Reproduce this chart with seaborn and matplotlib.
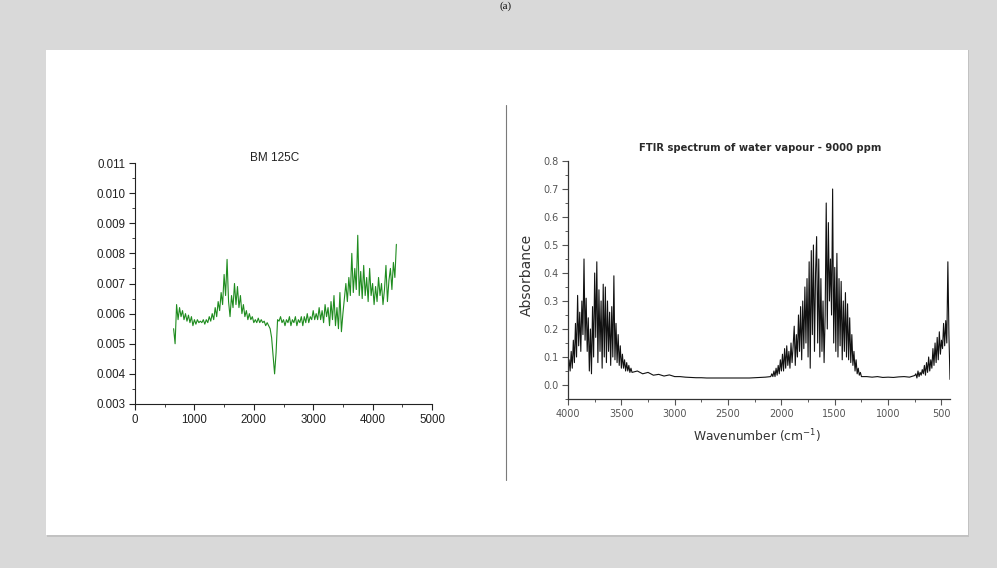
import numpy as np
import pandas as pd
import matplotlib
matplotlib.use("Agg")
import matplotlib.pyplot as plt
from matplotlib.patches import Rectangle
from matplotlib.ticker import MultipleLocator, FormatStrFormatter
import seaborn as sns

# ---------------- data: left panel (BM 125C) ----------------
bm_wavenumber = np.arange(650, 4401, 25)
bm_signal = [
    0.0055, 0.0050, 0.0063, 0.0058, 0.0062, 0.0059, 0.0061, 0.0058, 0.0060, 0.00575,
    0.00595, 0.0057, 0.0059, 0.0056, 0.0058, 0.00565, 0.0058, 0.0057, 0.00575, 0.0057,
    0.0058, 0.00565, 0.0058, 0.0057, 0.0059, 0.00575, 0.0060, 0.0058, 0.0062, 0.0059,
    0.0064, 0.0061, 0.0067, 0.0063, 0.0073, 0.0066, 0.0078, 0.0064, 0.0059, 0.0066,
    0.0062, 0.0070, 0.0063, 0.0069, 0.0062, 0.0066, 0.0060, 0.0063, 0.0059, 0.0061,
    0.0058, 0.0060, 0.0058, 0.0059, 0.0057, 0.0058, 0.0057, 0.00585, 0.0057, 0.0058,
    0.0057, 0.00575, 0.0056, 0.0057, 0.0056, 0.0055, 0.0052, 0.0046, 0.0040, 0.0047,
    0.0058, 0.00575, 0.0059, 0.0057, 0.0058, 0.0056, 0.0058, 0.0057, 0.0059, 0.0056,
    0.0058, 0.0057, 0.0059, 0.0056, 0.0058, 0.0057, 0.0059, 0.0056, 0.0059, 0.0057,
    0.0060, 0.0057, 0.0059, 0.0058, 0.0061, 0.0058, 0.0060, 0.0058, 0.0062, 0.0058,
    0.0061, 0.0057, 0.0063, 0.0059, 0.0062, 0.0056, 0.0064, 0.0058, 0.0066, 0.0056,
    0.0062, 0.0055, 0.0067, 0.0054, 0.0060, 0.0065, 0.0070, 0.0064, 0.0072, 0.0066,
    0.0080, 0.0067, 0.0075, 0.0068, 0.0086, 0.0066, 0.0074, 0.0065, 0.0076, 0.0066,
    0.0072, 0.0064, 0.0075, 0.0066, 0.0070, 0.0063, 0.0069, 0.0064, 0.0072, 0.0066,
    0.0070, 0.0063, 0.0068, 0.0076, 0.0064, 0.0071, 0.0075, 0.0068, 0.0077, 0.0072,
    0.0083,
]

# ---------------- data: right panel (FTIR water vapour) ----------------
ftir_band1_wn = [4000, 3990, 3980, 3970, 3960, 3950, 3940, 3930, 3920, 3910,
                 3900, 3890, 3880, 3870, 3860, 3850, 3840, 3830, 3820, 3810,
                 3800, 3790, 3780, 3770, 3760, 3750, 3740, 3730, 3720, 3710,
                 3700, 3690, 3680, 3670, 3660, 3650, 3640, 3630, 3620, 3610,
                 3600, 3590, 3580, 3570, 3560, 3550, 3540, 3530, 3520, 3510,
                 3500, 3490, 3480, 3470, 3460, 3450, 3440, 3430, 3420, 3410, 3400]
ftir_band1_abs = [0.05, 0.09, 0.05, 0.12, 0.06, 0.16, 0.08, 0.22, 0.10, 0.32,
                  0.14, 0.26, 0.12, 0.30, 0.18, 0.45, 0.16, 0.31, 0.12, 0.24,
                  0.05, 0.20, 0.04, 0.28, 0.10, 0.40, 0.17, 0.44, 0.08, 0.34,
                  0.12, 0.30, 0.06, 0.36, 0.10, 0.35, 0.08, 0.30, 0.12, 0.26,
                  0.07, 0.28, 0.10, 0.39, 0.09, 0.22, 0.08, 0.18, 0.07, 0.14,
                  0.06, 0.11, 0.06, 0.09, 0.05, 0.08, 0.05, 0.07, 0.045, 0.06, 0.045]

ftir_base1_wn = [3350, 3300, 3250, 3200, 3150, 3100, 3050, 3000, 2950, 2900,
                 2850, 2800, 2750, 2700, 2650, 2600, 2550, 2500, 2450, 2400,
                 2350, 2300, 2250, 2200, 2150]
ftir_base1_abs = [0.05, 0.04, 0.045, 0.035, 0.038, 0.032, 0.036, 0.030, 0.030, 0.028,
                  0.027, 0.026, 0.026, 0.025, 0.025, 0.025, 0.025, 0.025, 0.025, 0.025,
                  0.025, 0.025, 0.026, 0.027, 0.028]

ftir_band2_wn = [2100, 2090, 2080, 2070, 2060, 2050, 2040, 2030, 2020, 2010,
                 2000, 1990, 1980, 1970, 1960, 1950, 1940, 1930, 1920, 1910,
                 1900, 1890, 1880, 1870, 1860, 1850, 1840, 1830, 1820, 1810,
                 1800, 1790, 1780, 1770, 1760, 1750, 1740, 1730, 1720, 1710,
                 1700, 1690, 1680, 1670, 1660, 1650, 1640, 1630, 1620, 1610,
                 1600, 1590, 1580, 1570, 1560, 1550, 1540, 1530, 1520, 1510,
                 1500, 1490, 1480, 1470, 1460, 1450, 1440, 1430, 1420, 1410,
                 1400, 1390, 1380, 1370, 1360, 1350, 1340, 1330, 1320, 1310,
                 1300, 1290, 1280, 1270, 1260, 1250]
ftir_band2_abs = [0.03, 0.04, 0.03, 0.05, 0.03, 0.06, 0.035, 0.07, 0.04, 0.09,
                  0.05, 0.11, 0.05, 0.13, 0.06, 0.14, 0.07, 0.12, 0.06, 0.15,
                  0.08, 0.14, 0.21, 0.07, 0.18, 0.10, 0.25, 0.12, 0.28, 0.09,
                  0.30, 0.13, 0.35, 0.15, 0.38, 0.10, 0.44, 0.06, 0.48, 0.18,
                  0.50, 0.12, 0.40, 0.53, 0.15, 0.45, 0.10, 0.38, 0.12, 0.30,
                  0.08, 0.25, 0.65, 0.20, 0.58, 0.30, 0.45, 0.25, 0.70, 0.15,
                  0.42, 0.12, 0.47, 0.10, 0.38, 0.14, 0.37, 0.09, 0.30, 0.12,
                  0.33, 0.10, 0.29, 0.09, 0.24, 0.08, 0.18, 0.07, 0.12, 0.05,
                  0.09, 0.04, 0.06, 0.035, 0.045, 0.03]

ftir_base2_wn = [1200, 1150, 1100, 1050, 1000, 950, 900, 850, 800, 750]
ftir_base2_abs = [0.030, 0.028, 0.030, 0.027, 0.028, 0.027, 0.029, 0.030, 0.028, 0.034]

ftir_band3_wn = [740, 730, 720, 710, 700, 690, 680, 670, 660, 650,
                 640, 630, 620, 610, 600, 590, 580, 570, 560, 550,
                 540, 530, 520, 510, 500, 490, 480, 470, 460, 450,
                 440, 430, 420]
ftir_band3_abs = [0.04, 0.025, 0.05, 0.03, 0.045, 0.035, 0.055, 0.04, 0.07, 0.035,
                  0.08, 0.045, 0.10, 0.05, 0.09, 0.06, 0.13, 0.07, 0.15, 0.08,
                  0.17, 0.09, 0.19, 0.11, 0.16, 0.13, 0.22, 0.14, 0.23, 0.15,
                  0.44, 0.18, 0.02]

left_title = "BM 125C"
right_title = "FTIR spectrum of water vapour - 9000 ppm"
left_xticks = [0, 1000, 2000, 3000, 4000, 5000]
left_yticks = [0.003, 0.004, 0.005, 0.006, 0.007, 0.008, 0.009, 0.010, 0.011]
right_xticks = [4000, 3500, 3000, 2500, 2000, 1500, 1000, 500]
right_yticks = [0.0, 0.1, 0.2, 0.3, 0.4, 0.5, 0.6, 0.7, 0.8]

# ---------------- frames ----------------
df_left = pd.DataFrame({"wn": bm_wavenumber, "val": bm_signal})
df_right = pd.DataFrame({
    "wn": ftir_band1_wn + ftir_base1_wn + ftir_band2_wn + ftir_base2_wn + ftir_band3_wn,
    "val": ftir_band1_abs + ftir_base1_abs + ftir_band2_abs + ftir_base2_abs + ftir_band3_abs,
})

sns.set_style("ticks")
plt.rcParams["font.family"] = ["Liberation Sans", "DejaVu Sans"]
WIDE = ["DejaVu Sans"]

W, H = 997, 568
fig = plt.figure(figsize=(W / 100, H / 100), dpi=100, facecolor="#d9d9d9")


def fx(px):
    return px / W


def fy(py):
    return 1 - py / H


# card with subtle shadow (behind the axes)
fig.patches.append(Rectangle((fx(47), fy(537)), fx(922), 487 / H, transform=fig.transFigure,
                             facecolor="#c2c2c2", edgecolor="none", zorder=-2))
fig.patches.append(Rectangle((fx(46), fy(535)), fx(922), 485 / H, transform=fig.transFigure,
                             facecolor="white", edgecolor="none", zorder=-1))

# divider line
fig.add_artist(plt.Line2D([fx(506), fx(506)], [fy(105), fy(480)], transform=fig.transFigure,
                          color="#7a7a7a", lw=0.8))

# "(a)" label at the very top
fig.text(fx(506), fy(1), "(a)", ha="center", va="top", fontsize=8,
         family=["Liberation Serif"], color="#111111")

# ---------------- left axes ----------------
axL = fig.add_axes([fx(135), fy(404), fx(432 - 135), (404 - 163) / H])
axL.set_facecolor("none")
sns.lineplot(data=df_left, x="wn", y="val", ax=axL, color="#1f8c1f", lw=0.8)
axL.set_xlim(0, 5000)
axL.set_ylim(0.003, 0.011)
axL.set_xticks(left_xticks)
axL.set_yticks(left_yticks)
axL.xaxis.set_minor_locator(MultipleLocator(500))
axL.yaxis.set_minor_locator(MultipleLocator(0.0005))
axL.yaxis.set_major_formatter(FormatStrFormatter("%.3f"))
axL.set_xlabel("")
axL.set_ylabel("")
for s in ["top", "right"]:
    axL.spines[s].set_visible(False)
for s in ["left", "bottom"]:
    axL.spines[s].set_linewidth(0.8)
    axL.spines[s].set_color("#222222")
axL.tick_params(which="major", direction="out", length=4, width=0.8, labelsize=8.3,
                colors="#222222", pad=3)
axL.tick_params(which="minor", direction="out", length=2, width=0.6, colors="#222222")
fig.text(fx(275), fy(158), left_title, ha="center", va="center", fontsize=8.5, color="#222222")

# ---------------- right axes ----------------
axR = fig.add_axes([fx(568), fy(399), fx(950 - 568), (399 - 161) / H])
axR.set_facecolor("none")
sns.lineplot(data=df_right, x="wn", y="val", ax=axR, color="#111111", lw=0.8)
axR.set_xlim(4000, 420)
axR.set_ylim(-0.05, 0.8)
axR.set_xticks(right_xticks)
axR.set_yticks(right_yticks)
axR.xaxis.set_minor_locator(MultipleLocator(250))
axR.yaxis.set_minor_locator(MultipleLocator(0.05))
axR.yaxis.set_major_formatter(FormatStrFormatter("%.1f"))
axR.set_xlabel("")
axR.set_ylabel("")
for s in ["top", "right"]:
    axR.spines[s].set_visible(False)
for s in ["left", "bottom"]:
    axR.spines[s].set_linewidth(0.9)
    axR.spines[s].set_color("#333333")
axR.tick_params(which="major", direction="out", length=4, width=0.8, labelsize=7,
                colors="#555555", pad=3)
axR.tick_params(which="minor", direction="out", length=2, width=0.6, colors="#444444")
for lab in axR.get_xticklabels() + axR.get_yticklabels():
    lab.set_family(WIDE)
fig.text(fx(760), fy(148), right_title, ha="center", va="center", fontsize=7.2,
         fontweight="bold", family=WIDE, color="#2a2a2a")
fig.text(fx(527), fy(275), "Absorbance", ha="center", va="center", rotation=90,
         fontsize=10, family=WIDE, color="#333333")
fig.text(fx(757), fy(436), "Wavenumber (cm$^{-1}$)", ha="center", va="center",
         fontsize=8.8, family=WIDE, color="#333333")

fig.savefig("out.png", dpi=100, facecolor=fig.get_facecolor())
